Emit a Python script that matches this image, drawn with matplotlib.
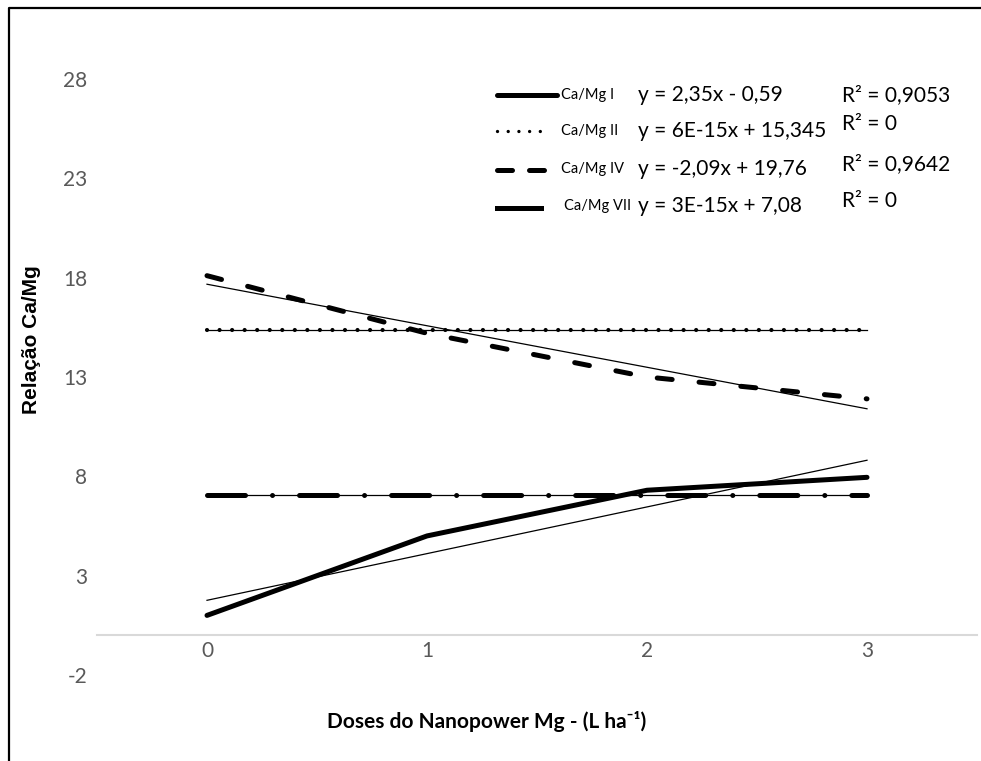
#!/usr/bin/env python3
"""
Relação Ca/Mg vs doses do Nanopower Mg, with linear trend lines.
"""

import matplotlib
matplotlib.use('Agg')
import matplotlib.pyplot as plt
from matplotlib.lines import Line2D
import numpy as np

plt.rcParams['font.family'] = ['Lato', 'DejaVu Sans']
plt.rcParams['axes.unicode_minus'] = False

# Data
doses = [0, 1, 2, 3]
series_names = ['Ca/Mg I', 'Ca/Mg II', 'Ca/Mg IV', 'Ca/Mg VII']
ca_mg_i = [1.0, 5.0, 7.3, 7.95]
ca_mg_ii = [15.345, 15.345, 15.345, 15.345]
ca_mg_iv = [18.1, 15.2, 13.0, 11.9]
ca_mg_vii = [7.08, 7.08, 7.08, 7.08]

# Trend line coefficients as printed (Excel uses x = 1..4)
slopes = [2.35, 6e-15, -2.09, 3e-15]
intercepts = [-0.59, 15.345, 19.76, 7.08]
equations = ['y = 2,35x - 0,59', 'y = 6E-15x + 15,345',
             'y = -2,09x + 19,76', 'y = 3E-15x + 7,08']
r2_labels = ['R² = 0,9053', 'R² = 0', 'R² = 0,9642', 'R² = 0']

yticks = [-2, 3, 8, 13, 18, 23, 28]

W, H = 981, 761
fig = plt.figure(figsize=(W / 100, H / 100), dpi=100)
ax = fig.add_axes([97 / W, 1 - 675 / H, 880 / W, 596 / H])

# line styles
styles = [
    dict(linestyle='-', linewidth=3.6, solid_capstyle='round'),
    dict(linestyle=(0, (0.01, 3.0)), linewidth=3.0, dash_capstyle='round'),
    dict(linestyle=(0, (3.0, 5.4)), linewidth=3.6, dash_capstyle='round'),
    dict(linestyle=(0, (7.6, 5.4, 0.01, 5.4)), linewidth=3.6, dash_capstyle='round'),
]

all_series = [ca_mg_i, ca_mg_ii, ca_mg_iv, ca_mg_vii]
x = np.array(doses)
for vals, st in zip(all_series, styles):
    ax.plot(x, vals, color='black', **st, zorder=3)

# trend lines
for m, b in zip(slopes, intercepts):
    ax.plot(x, m * (x + 1) + b, color='black', linewidth=0.9, zorder=4)

ax.set_xlim(-0.5, 3.5)
ax.set_ylim(-2, 28)
ax.set_xticks(doses)
ax.set_yticks(yticks)
ax.tick_params(length=0, labelsize=15, labelcolor='#595959')
ax.tick_params(axis='y', pad=7)
ax.tick_params(axis='x', pad=4)
for s in ['top', 'right', 'left']:
    ax.spines[s].set_visible(False)
ax.spines['bottom'].set_position(('data', 0))
ax.spines['bottom'].set_color('#d9d9d9')
ax.spines['bottom'].set_linewidth(1.5)

# axis titles
fig.text(487 / W, 1 - 722 / H, 'Doses do Nanopower Mg - (L ha⁻¹)',
         fontsize=15, fontweight='bold', ha='center', va='center')
fig.text(32 / W, 1 - 340 / H, 'Relação Ca/Mg', family='Liberation Sans',
         fontsize=15, fontweight='bold', rotation=90, ha='center', va='center')


def fx(px):
    return px / W


def fy(py):
    return 1 - py / H


# legend, drawn by hand
rows = [95, 131, 170, 208]
samples = [(497, 557), (497, 550), (497, 557), (497, 541)]
label_x = [561, 561, 561, 564]
eq_y = [95, 131, 169, 206]
r2_y = [95, 124, 164, 201]
for i in range(4):
    x0, x1 = samples[i]
    st = dict(styles[i])
    if i == 1:
        st['linewidth'] = 2.4
        st['linestyle'] = (0, (0.01, 3.2))
    if i == 2:
        st['linestyle'] = (0, (3.0, 3.4))
    if i == 3:
        st['linestyle'] = '-'
    fig.add_artist(Line2D([fx(x0), fx(x1)], [fy(rows[i]), fy(rows[i])],
                          color='black', **st))
    fig.text(fx(label_x[i]), fy(eq_y[i]), series_names[i], fontsize=10.5,
             ha='left', va='center')
    fig.text(fx(638), fy(eq_y[i]), equations[i], fontsize=15,
             ha='left', va='center')
    fig.text(fx(842), fy(r2_y[i]), r2_labels[i], fontsize=15,
             ha='left', va='center')

# outer frame (left and top edges only)
fig.add_artist(Line2D([fx(9), fx(9), fx(981)], [fy(761), fy(8), fy(8)],
                      color='black', linewidth=1.6))

fig.savefig('out.png', dpi=100)
